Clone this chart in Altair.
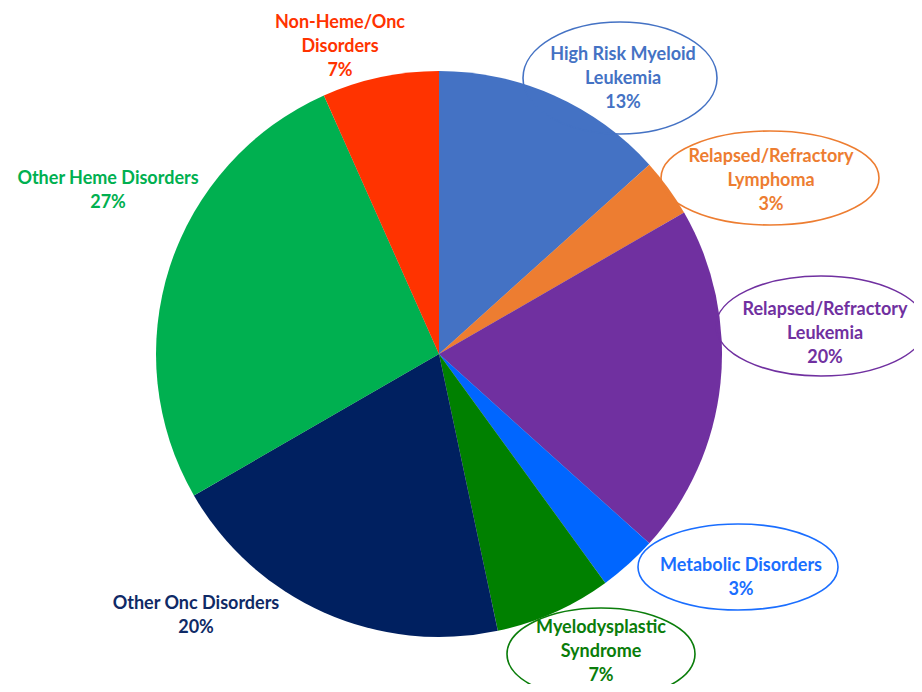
import math
import altair as alt
import pandas as pd

# ---- data ----
CATEGORIES = [
    "High Risk Myeloid Leukemia",
    "Relapsed/Refractory Lymphoma",
    "Relapsed/Refractory Leukemia",
    "Metabolic Disorders",
    "Myelodysplastic Syndrome",
    "Other Onc Disorders",
    "Other Heme Disorders",
    "Non-Heme/Onc Disorders",
]
COUNTS = [4, 1, 6, 1, 2, 6, 8, 2]
PERCENT_LABELS = ["13%", "3%", "20%", "3%", "7%", "20%", "27%", "7%"]
COLORS = ["#4472C4", "#ED7D31", "#7030A0", "#0066FF", "#008000", "#002060", "#00B050", "#FF3300"]
LABEL_COLORS = ["#4472C4", "#ED7D31", "#7030A0", "#1A6EFF", "#0A7D0A", "#0F2A66", "#00B050", "#FF3300"]
LABEL_TEXT = [
    "High Risk Myeloid\nLeukemia",
    "Relapsed/Refractory\nLymphoma",
    "Relapsed/Refractory\nLeukemia",
    "Metabolic Disorders",
    "Myelodysplastic\nSyndrome",
    "Other Onc Disorders",
    "Other Heme Disorders",
    "Non-Heme/Onc\nDisorders",
]

# ---- layout (plot-area pixel coordinates; y is the first text line) ----
CX, CY, R = 431, 346, 283
LABEL_X = [615, 763, 817, 733, 593, 188, 100, 332]
LABEL_Y = [47, 149, 302, 558, 620, 596, 171, 15]
ELLIPSE_IDX = [0, 1, 2, 3, 4]
ELLIPSE_X = [612, 762, 813, 730, 593]
ELLIPSE_Y = [70, 170, 318, 559, 646]
ELLIPSE_RX = [97, 109, 105, 100, 94]
ELLIPSE_RY = [56, 47, 50, 43, 46]
SHADOW_STEPS = [1.5, 3.0, 4.5, 6.0]


def ellipse_path(b):
    k = 0.5523
    return (
        f"M 1 0 C 1 {k*b:.4f} {k} {b:.4f} 0 {b:.4f} "
        f"C {-k} {b:.4f} -1 {k*b:.4f} -1 0 "
        f"C -1 {-k*b:.4f} {-k} {-b:.4f} 0 {-b:.4f} "
        f"C {k} {-b:.4f} 1 {-k*b:.4f} 1 0 Z"
    )


df = pd.DataFrame({"category": CATEGORIES, "value": COUNTS, "order": list(range(len(COUNTS)))})

labels = pd.DataFrame({
    "text": [t + "\n" + p for t, p in zip(LABEL_TEXT, PERCENT_LABELS)],
    "color": LABEL_COLORS,
    "lx": LABEL_X,
    "ly": LABEL_Y,
})

ell = pd.DataFrame({
    "ex": ELLIPSE_X,
    "ey": ELLIPSE_Y,
    "path": [ellipse_path(ry / rx) for rx, ry in zip(ELLIPSE_RX, ELLIPSE_RY)],
    "size": [(2 * rx) ** 2 for rx in ELLIPSE_RX],
    "color": [LABEL_COLORS[i] for i in ELLIPSE_IDX],
})

shadow_df = pd.DataFrame({"s": [math.pi * (R + d) ** 2 for d in SHADOW_STEPS]})

shadow = alt.Chart(shadow_df).mark_circle(color="#000000", opacity=0.045).encode(
    x=alt.value(CX + 1),
    y=alt.value(CY + 1),
    size=alt.Size("s:Q", scale=None),
)

pie = alt.Chart(df).mark_arc(outerRadius=R, strokeWidth=0).encode(
    theta=alt.Theta("value:Q", stack=True),
    color=alt.Color("category:N", scale=alt.Scale(domain=CATEGORIES, range=COLORS), legend=None),
    order=alt.Order("order:Q"),
    x=alt.value(CX),
    y=alt.value(CY),
)

ellipses = alt.Chart(ell).mark_point(filled=False, strokeWidth=1.6, opacity=1).encode(
    x=alt.X("ex:Q", scale=None),
    y=alt.Y("ey:Q", scale=None),
    shape=alt.Shape("path:N", scale=None),
    size=alt.Size("size:Q", scale=None),
    color=alt.Color("color:N", scale=None),
)

text = alt.Chart(labels).mark_text(
    font="Lato", fontWeight="bold", fontSize=18, lineBreak="\n", lineHeight=24,
    align="center", baseline="middle",
).encode(
    x=alt.X("lx:Q", scale=None),
    y=alt.Y("ly:Q", scale=None),
    text="text:N",
    color=alt.Color("color:N", scale=None),
)

chart = alt.layer(shadow, pie, ellipses, text).properties(
    width=906, height=676, padding=0,
    autosize=alt.AutoSizeParams(type="none"),
).configure_view(strokeWidth=0)

chart.save("out.html", embed_options={"renderer": "svg", "actions": False})
